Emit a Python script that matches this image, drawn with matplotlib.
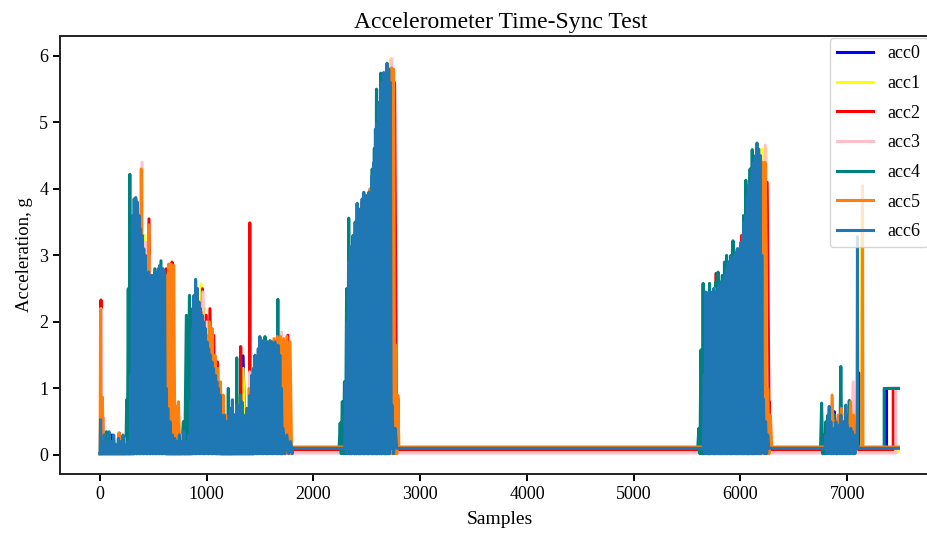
import matplotlib
matplotlib.use('Agg')
import matplotlib.pyplot as plt
import numpy as np

plt.rcParams['font.family'] = ['Liberation Serif', 'DejaVu Serif']

labels = ['acc0', 'acc1', 'acc2', 'acc3', 'acc4', 'acc5', 'acc6']
colors = ['blue', 'yellow', 'red', 'pink', 'teal', '#ff7f0e', '#1f77b4']

# resting level of each sensor once things settle down (g)
rest_levels = [0.09, 0.06, 0.08, 0.03, 0.11, 0.12, 0.10]
# sample where the trace jumps to 1 g at the very end (None = no jump)
step_samples = [7368, None, 7431, 7456, 7346, None, None]
step_level = 1.0
last_sample = 7480

# bursts: (first sample, last sample, peak values)
acc0_bursts = [
    (8, 8, [0.4]),
    (112, 112, [0.3]),
    (300, 600, [3.0, 3.6, 3.4, 3.2, 3.1, 2.6, 2.7, 2.6, 2.7, 2.6, 2.7]),
    (650, 650, [0.5]),
    (870, 1120, [1.8, 2.5, 2.3, 2.0, 1.7, 1.4, 1.0]),
    (1260, 1420, [0.6, 0.8, 1.49, 0.7, 0.5]),
    (1440, 1690, [1.0, 1.3, 1.5, 1.6, 1.6, 1.5]),
    (2320, 2700, [1.0, 2.8, 3.4, 3.6, 3.7, 3.8, 4.0, 4.5, 5.2, 5.6]),
    (5680, 6200, [2.0, 2.3, 2.4, 2.6, 2.8, 2.9, 3.0, 3.4, 4.0, 4.5, 4.3]),
    (6840, 7080, [0.5, 0.65, 0.4, 0.6, 0.5, 0.7, 0.5]),
    (7112, 7112, [1.23]),
]
acc1_bursts = [
    (10, 10, [2.0]),
    (330, 600, [3.0, 3.7, 3.2, 3.3, 2.6, 2.6, 2.5, 2.6, 2.7, 2.6]),
    (880, 1150, [2.0, 2.3, 2.57, 2.2, 1.8, 1.6, 1.2, 1.0, 0.6]),
    (1300, 1420, [0.9, 1.3, 0.6, 0.9]),
    (1450, 1700, [1.2, 1.5, 1.6, 1.7, 1.6, 1.7]),
    (2330, 2720, [1.2, 3.0, 3.5, 3.6, 3.8, 3.9, 4.1, 4.6, 5.2, 5.7, 5.95]),
    (2740, 2780, [1.0, 0.5]),
    (5680, 6240, [2.1, 2.3, 2.4, 2.5, 2.6, 2.8, 2.9, 3.0, 3.1, 3.27, 3.8, 4.2,
                  4.5, 4.6, 4.62]),
    (6260, 6260, [1.1]),
    (6830, 7060, [0.3, 0.6, 0.4, 0.5, 0.7, 0.5]),
    (7140, 7140, [3.64]),
]
acc2_bursts = [
    (9, 9, [2.33]),
    (25, 25, [0.57]),
    (180, 180, [0.33]),
    (330, 620, [3.2, 3.3, 3.4, 3.1, 3.55, 2.6, 2.7, 2.6, 2.7, 2.8]),
    (675, 675, [2.9]),
    (890, 1100, [2.0, 2.3, 2.5, 2.1, 2.2, 1.8, 1.4]),
    (1318, 1318, [1.63]),
    (1403, 1403, [3.49]),
    (1460, 1760, [1.0, 1.3, 1.5, 1.6, 1.65, 1.7, 1.7, 1.8]),
    (2340, 2760, [1.0, 2.5, 3.2, 3.5, 3.7, 3.8, 3.9, 4.2, 4.9, 5.4, 5.7, 5.6]),
    (2790, 2790, [0.85]),
    (5690, 6250, [1.5, 2.0, 2.73, 2.5, 2.6, 2.8, 3.0, 2.9, 3.3, 3.8, 4.2, 4.4,
                  4.5, 4.3, 4.1]),
    (6270, 6270, [0.8]),
    (6830, 7080, [0.4, 0.5, 0.6, 0.4, 0.7, 0.5]),
]
acc3_bursts = [
    (9, 9, [2.2]),
    (330, 620, [3.0, 3.5, 4.4, 3.2, 3.0, 2.6, 2.6, 2.7, 2.7, 2.6]),
    (890, 1110, [2.0, 2.2, 2.45, 2.0, 1.8, 1.4, 1.0]),
    (1403, 1403, [1.25]),
    (1460, 1700, [1.0, 1.3, 1.5, 1.6, 1.7, 1.85]),
    (2340, 2733, [1.0, 2.6, 3.3, 3.6, 3.7, 3.8, 3.9, 4.4, 5.0, 5.6, 5.96]),
    (5690, 6231, [1.5, 2.2, 2.4, 2.5, 2.6, 2.8, 3.0, 3.1, 3.2, 3.6, 4.0, 4.4,
                  4.5, 4.66]),
    (6830, 7056, [0.3, 0.5, 0.4, 0.6, 0.8, 1.1]),
]
acc4_bursts = [
    (59, 59, [0.35]),
    (250, 294, [0.83, 2.5, 4.22, 1.0]),
    (310, 600, [3.0, 3.3, 3.0, 2.8, 2.7, 2.6, 2.7, 2.8, 2.7, 2.92, 2.7]),
    (780, 1070, [0.5, 2.1, 2.4, 2.2, 2.0, 1.8, 1.6, 1.3, 1.1, 0.9, 0.8]),
    (1202, 1202, [1.0]),
    (1281, 1281, [1.46]),
    (1425, 1690, [0.9, 1.0, 1.3, 1.78, 1.6, 1.78, 1.7, 1.72, 1.7, 1.65, 2.34, 1.6]),
    (2250, 2690, [0.48, 0.8, 1.1, 2.5, 3.56, 2.8, 3.3, 3.5, 3.78, 3.5, 3.7, 3.94,
                  3.6, 3.8, 3.95, 4.3, 4.61, 5.5, 5.3, 5.74, 5.6, 5.0, 3.0]),
    (5610, 6130, [0.4, 1.58, 2.58, 2.0, 2.4, 2.58, 2.3, 2.5, 2.6, 2.75, 2.6, 2.7,
                  2.9, 3.0, 2.9, 3.0, 3.22, 3.0, 3.1, 3.0, 3.2, 3.6, 4.13, 3.9,
                  4.3, 4.59, 4.0]),
    (6760, 7040, [0.78, 0.3, 0.5, 0.6, 0.4, 0.5, 0.6, 0.4, 0.5, 1.33, 0.5, 0.4,
                  0.6, 0.82, 0.4]),
]
acc5_bursts = [
    (5, 5, [2.18]),
    (22, 40, [0.87, 0.3]),
    (178, 178, [0.33]),
    (225, 225, [0.26]),
    (340, 690, [2.7, 3.2, 4.3, 3.0, 2.8, 3.46, 2.6, 2.6, 2.55, 2.6, 2.5, 2.6, 2.7,
                2.87, 2.87, 2.85]),
    (709, 760, [0.73, 0.8, 0.3]),
    (870, 1180, [1.0, 2.0, 2.1, 2.15, 2.0, 1.8, 2.0, 1.9, 1.5, 1.3, 1.1, 0.9, 0.6]),
    (1398, 1398, [1.0]),
    (1420, 1780, [0.8, 1.2, 1.5, 1.6, 1.7, 1.65, 1.7, 1.75, 1.78, 1.78, 1.75,
                  1.78, 1.7]),
    (2330, 2790, [1.0, 2.5, 3.0, 3.3, 3.5, 3.6, 3.8, 3.7, 3.9, 3.8, 4.0, 4.0, 4.1,
                  4.3, 4.8, 5.0, 5.3, 5.5, 5.7, 5.8, 5.82, 5.8, 1.65, 0.9]),
    (5680, 6280, [1.0, 2.0, 2.1, 2.5, 2.3, 2.4, 2.5, 2.45, 2.6, 2.7, 2.8, 2.9,
                  3.0, 3.1, 3.2, 3.3, 3.3, 3.6, 3.9, 4.1, 4.3, 4.4, 4.4, 1.0, 0.6]),
    (6830, 7060, [0.4, 0.9, 0.5, 0.6, 0.7, 0.5, 0.4, 0.8, 0.6]),
    (7143, 7143, [4.05]),
]
acc6_bursts = [
    (5, 5, [0.53]),
    (40, 260, [0.3, 0.15, 0.35, 0.2, 0.3, 0.15, 0.25, 0.2, 0.3, 0.15, 0.2]),
    (290, 620, [1.2, 3.6, 3.85, 3.87, 3.8, 3.6, 3.4, 3.3, 3.1, 3.0, 2.7, 2.75,
                2.65, 2.7, 2.65, 2.75, 2.7, 2.8, 2.85, 2.8, 2.8, 2.75, 1.0]),
    (635, 830, [0.7, 0.5, 0.3, 0.25, 0.2, 0.3, 0.2, 0.35, 0.2, 0.3]),
    (850, 1140, [0.8, 1.9, 2.4, 2.64, 2.5, 2.3, 2.2, 2.1, 2.0, 1.9, 1.7, 1.6,
                 1.5, 1.4, 1.3, 1.2, 1.1, 1.0, 0.9, 0.6]),
    (1150, 1390, [0.4, 0.6, 0.5, 0.5, 0.6, 0.7, 0.83, 0.5, 0.6, 0.75, 0.7, 0.9,
                  0.8, 0.6, 0.5, 0.7, 0.4]),
    (1405, 1700, [0.9, 1.2, 1.3, 1.5, 1.45, 1.6, 1.77, 1.7, 1.72, 1.65, 1.7, 1.7,
                  1.68, 1.7, 1.65, 1.7, 1.6, 1.65, 1.5, 1.0]),
    (1715, 1785, [0.4, 0.3, 0.2]),
    (2300, 2720, [1.1, 2.0, 2.9, 3.13, 3.0, 3.3, 3.5, 3.78, 3.6, 3.7, 3.85, 3.95,
                  3.8, 3.9, 3.95, 3.9, 4.2, 4.4, 4.9, 5.0, 5.3, 5.5, 5.6, 5.75,
                  5.7, 5.89, 5.8, 5.6]),
    (2735, 2765, [0.75, 0.4]),
    (5660, 6200, [1.2, 2.45, 2.4, 2.45, 2.3, 2.45, 2.5, 2.4, 2.45, 2.55, 2.5, 2.6,
                  2.55, 2.7, 2.8, 2.9, 2.85, 2.97, 2.9, 3.0, 3.05, 3.1, 3.0, 3.2,
                  3.3, 3.5, 3.6, 3.9, 4.07, 4.1, 4.3, 4.4, 4.5, 4.69, 4.6, 4.5,
                  3.0]),
    (6215, 6255, [0.84, 0.5, 0.3]),
    (6800, 7080, [0.3, 0.5, 0.73, 0.5, 0.35, 0.4, 0.5, 0.3, 0.45, 0.6, 0.4, 0.5,
                  0.75, 0.45, 0.3, 0.4, 0.35, 0.3, 0.25]),
    (7096, 7096, [3.28]),
]
all_bursts = [acc0_bursts, acc1_bursts, acc2_bursts, acc3_bursts,
              acc4_bursts, acc5_bursts, acc6_bursts]


def trace(bursts, rest, step_at, floor=0.02, settle=1790):
    # spikes go up to each peak and back down to the floor in between
    xs, ys = [0], [floor]
    settled = False
    for first, last, peaks in bursts:
        if first >= settle and not settled:
            xs.append(settle)
            ys.append(rest)
            settled = True
        base = rest if settled else floor
        n = len(peaks)
        gap = (last - first) / (n - 1) if n > 1 else 8
        for i, v in enumerate(peaks):
            p = first + i * gap
            xs += [p - gap / 2, p]
            ys += [floor if i else base, v]
        xs.append(last + gap / 2)
        ys.append(base)
    if step_at is not None:
        xs += [step_at, step_at, last_sample]
        ys += [rest, step_level, step_level]
    else:
        xs.append(last_sample)
        ys.append(rest)
    return np.array(xs), np.array(ys)


fig = plt.figure(figsize=(9.27, 5.33), dpi=100)
ax = fig.add_axes([0.0647, 0.1107, 0.950, 0.8218])

for i in range(len(labels)):
    x, y = trace(all_bursts[i], rest_levels[i], step_samples[i])
    ax.plot(x, y, color=colors[i], lw=2.2, label=labels[i])

ax.set_xlim(-375, 7875)
ax.set_ylim(-0.286, 6.3)
ax.set_xticks([0, 1000, 2000, 3000, 4000, 5000, 6000, 7000])
ax.set_yticks([0, 1, 2, 3, 4, 5, 6])
ax.tick_params(labelsize=13, width=1.4, length=5)
for s in ax.spines.values():
    s.set_linewidth(1.4)
    s.set_color('#222222')

ax.set_title('Accelerometer Time-Sync Test', fontsize=17)
ax.set_xlabel('Samples', fontsize=14, labelpad=6)
ax.set_ylabel('Acceleration, g', fontsize=13.5)
# legend tucked against the right edge of the figure
ax.legend(loc='upper left', bbox_to_anchor=(0.874, 0.995), borderaxespad=0,
          fontsize=13, handlelength=2.0, labelspacing=0.7)

fig.savefig('out.png', dpi=100)
